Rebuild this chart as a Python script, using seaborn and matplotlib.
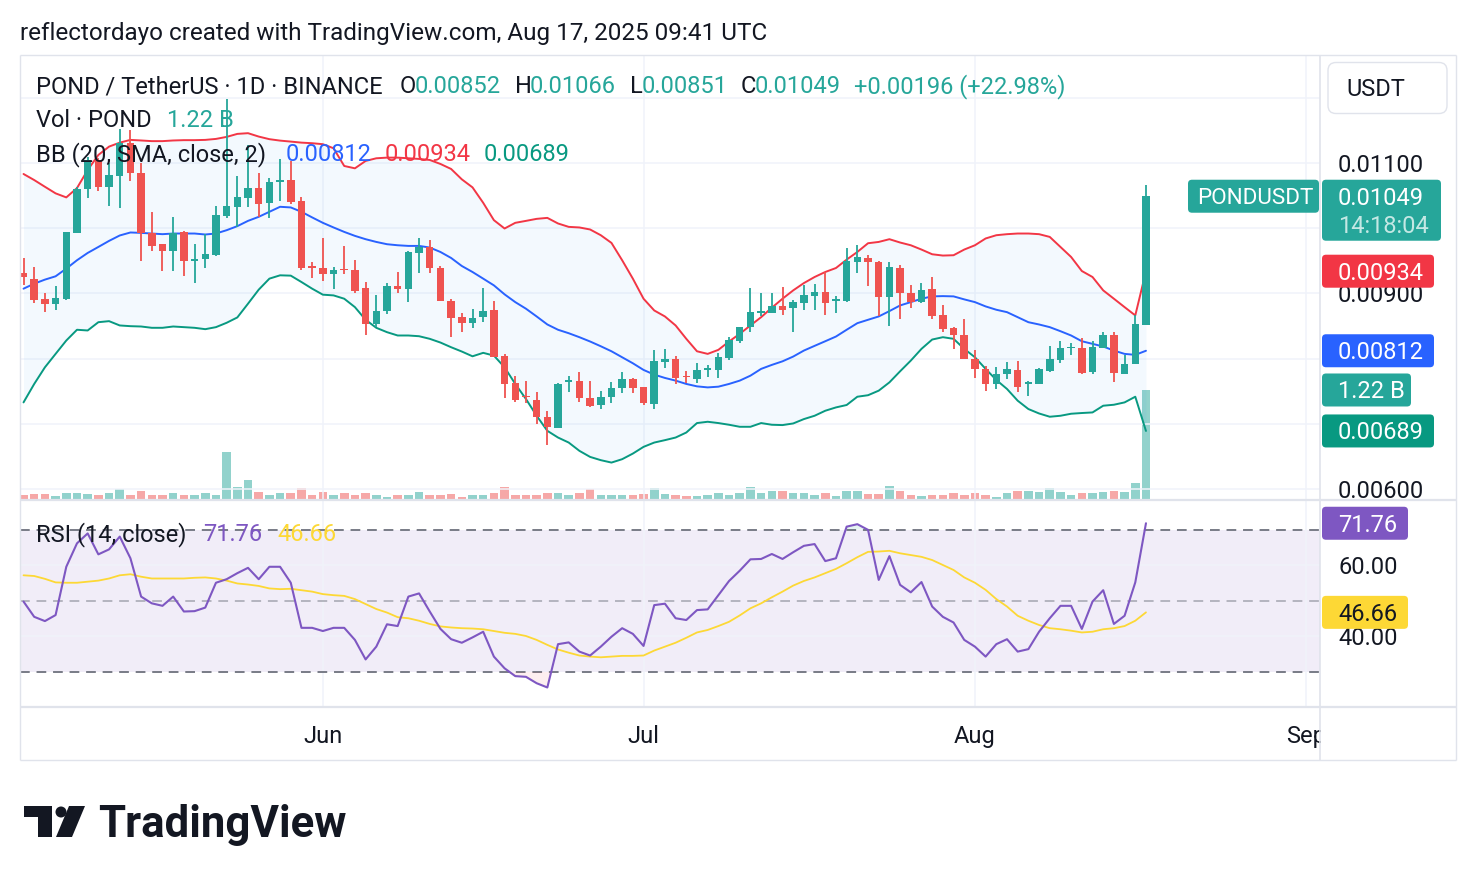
import numpy as np
import pandas as pd
import matplotlib
matplotlib.use("Agg")
import matplotlib.pyplot as plt
import seaborn as sns
from matplotlib.patches import FancyBboxPatch, Rectangle, Circle, Polygon

sns.set_theme(style="white")
plt.rcParams['font.family'] = ['Roboto', 'DejaVu Sans']

# ---------------- data ----------------
dates = pd.date_range("2025-05-04", periods=106, freq="D")

open_ = [0.009308, 0.009215, 0.008908, 0.008831, 0.008908, 0.009923, 0.010600, 0.011046, 0.010631, 0.010800,
         0.011308, 0.010846, 0.009923, 0.009754, 0.009646, 0.009938, 0.009492, 0.009523, 0.009585, 0.010185,
         0.010323, 0.010462, 0.010615, 0.010385, 0.010715, 0.010738, 0.010415, 0.009415, 0.009385, 0.009292,
         0.009377, 0.009354, 0.009077, 0.008523, 0.008723, 0.009108, 0.009062, 0.009623, 0.009708, 0.009385,
         0.008877, 0.008631, 0.008538, 0.008631, 0.008738, 0.008046, 0.007631, 0.007423, 0.007369, 0.007108,
         0.006938, 0.007646, 0.007662, 0.007400, 0.007292, 0.007415, 0.007554, 0.007692, 0.007569, 0.007308,
         0.007954, 0.008000, 0.007731, 0.007692, 0.007831, 0.007831, 0.008015, 0.008262, 0.008477, 0.008708,
         0.008692, 0.008800, 0.008769, 0.008846, 0.008954, 0.009015, 0.008892, 0.008877, 0.009477, 0.009538,
         0.009477, 0.008938, 0.009385, 0.009000, 0.008862, 0.009062, 0.008662, 0.008462, 0.008369, 0.008000,
         0.007846, 0.007615, 0.007769, 0.007831, 0.007615, 0.007615, 0.007815, 0.007985, 0.008162, 0.008169,
         0.007800, 0.008169, 0.008369, 0.007769, 0.007923, 0.008520]
high = [0.009538, 0.009400, 0.009000, 0.009108, 0.009938, 0.010631, 0.011092, 0.011077, 0.011000, 0.011523,
        0.011508, 0.011000, 0.010246, 0.009760, 0.010169, 0.009954, 0.009754, 0.009908, 0.010338, 0.011985,
        0.010800, 0.011277, 0.010846, 0.010769, 0.011062, 0.011031, 0.010477, 0.009477, 0.009846, 0.009400,
        0.009723, 0.009508, 0.009169, 0.008969, 0.009154, 0.009323, 0.009646, 0.009846, 0.009815, 0.009415,
        0.008908, 0.008692, 0.008754, 0.009077, 0.008877, 0.008077, 0.007738, 0.007662, 0.007492, 0.007200,
        0.007631, 0.007738, 0.007800, 0.007662, 0.007508, 0.007646, 0.007800, 0.007708, 0.007570, 0.008138,
        0.008154, 0.008046, 0.007815, 0.007938, 0.007908, 0.008092, 0.008338, 0.008485, 0.009077, 0.009000,
        0.009000, 0.009092, 0.008892, 0.009123, 0.009138, 0.009323, 0.008954, 0.009692, 0.009738, 0.009585,
        0.009492, 0.009477, 0.009431, 0.009123, 0.009154, 0.009246, 0.008815, 0.008477, 0.008600, 0.008138,
        0.007892, 0.007877, 0.007954, 0.007969, 0.007662, 0.007862, 0.008200, 0.008277, 0.008246, 0.008323,
        0.008277, 0.008400, 0.008415, 0.008062, 0.008662, 0.010660]
low = [0.009123, 0.008846, 0.008708, 0.008738, 0.008900, 0.009920, 0.010462, 0.010569, 0.010338, 0.010308,
       0.010723, 0.009492, 0.009646, 0.009338, 0.009338, 0.009262, 0.009154, 0.009385, 0.009569, 0.010154,
       0.010015, 0.010323, 0.010169, 0.010154, 0.010415, 0.010369, 0.009354, 0.009231, 0.009185, 0.009062,
       0.009292, 0.009000, 0.008369, 0.008477, 0.008677, 0.009000, 0.008862, 0.009308, 0.009308, 0.008877,
       0.008338, 0.008400, 0.008462, 0.008554, 0.008031, 0.007400, 0.007338, 0.007323, 0.007000, 0.006677,
       0.006938, 0.007492, 0.007338, 0.007262, 0.007231, 0.007323, 0.007477, 0.007477, 0.007292, 0.007231,
       0.007862, 0.007615, 0.007631, 0.007631, 0.007723, 0.007708, 0.007985, 0.008246, 0.008400, 0.008646,
       0.008692, 0.008662, 0.008400, 0.008738, 0.008738, 0.008662, 0.008692, 0.008862, 0.009308, 0.009108,
       0.008646, 0.008492, 0.008600, 0.008769, 0.008846, 0.008600, 0.008400, 0.008154, 0.008000, 0.007708,
       0.007508, 0.007538, 0.007692, 0.007492, 0.007431, 0.007615, 0.007800, 0.007938, 0.008062, 0.007769,
       0.007769, 0.008169, 0.007646, 0.007769, 0.007923, 0.008510]
close = [0.009246, 0.008892, 0.008831, 0.008923, 0.009938, 0.010600, 0.011046, 0.010631, 0.010815, 0.011308,
         0.010846, 0.009923, 0.009723, 0.009646, 0.009923, 0.009492, 0.009523, 0.009600, 0.010200, 0.010338,
         0.010477, 0.010615, 0.010369, 0.010708, 0.010731, 0.010400, 0.009385, 0.009392, 0.009292, 0.009354,
         0.009354, 0.009031, 0.008523, 0.008723, 0.009108, 0.009062, 0.009631, 0.009708, 0.009385, 0.008877,
         0.008615, 0.008538, 0.008615, 0.008723, 0.008031, 0.007615, 0.007369, 0.007408, 0.007108, 0.006954,
         0.007615, 0.007662, 0.007400, 0.007277, 0.007415, 0.007554, 0.007692, 0.007554, 0.007323, 0.007969,
         0.008000, 0.007708, 0.007715, 0.007831, 0.007846, 0.008031, 0.008292, 0.008477, 0.008708, 0.008723,
         0.008800, 0.008738, 0.008862, 0.008969, 0.009015, 0.008846, 0.008908, 0.009492, 0.009554, 0.009477,
         0.008938, 0.009400, 0.009000, 0.008862, 0.009046, 0.008646, 0.008446, 0.008369, 0.008000, 0.007846,
         0.007615, 0.007769, 0.007846, 0.007569, 0.007631, 0.007846, 0.008000, 0.008169, 0.008177, 0.007785,
         0.008185, 0.008369, 0.007785, 0.007923, 0.008530, 0.010490]
volume_m = [58, 66, 66, 44, 81, 81, 66, 58, 74, 118,
            58, 103, 58, 58, 74, 58, 58, 74, 58, 527,
            147, 225, 85, 58, 74, 74, 129, 58, 92, 58,
            81, 58, 81, 52, 37, 58, 58, 92, 58, 58,
            66, 37, 52, 58, 81, 140, 58, 58, 58, 81,
            81, 58, 74, 118, 58, 58, 58, 58, 66, 129,
            66, 58, 44, 44, 58, 74, 58, 74, 147, 81,
            103, 103, 81, 74, 58, 81, 44, 103, 103, 66,
            66, 158, 103, 58, 44, 58, 58, 74, 58, 81,
            58, 37, 81, 103, 103, 92, 129, 92, 58, 81,
            81, 92, 103, 92, 191, 1220]
bb_upper = [0.010831, 0.010738, 0.010635, 0.010534, 0.010472, 0.010615, 0.010892, 0.011123, 0.011251, 0.011312,
            0.011354, 0.011345, 0.011335, 0.011335, 0.011345, 0.011350, 0.011350, 0.011354, 0.011369, 0.011400,
            0.011446, 0.011457, 0.011405, 0.011365, 0.011343, 0.011328, 0.011312, 0.011303, 0.011288, 0.011226,
            0.010954, 0.010918, 0.011031, 0.011072, 0.011082, 0.011082, 0.011072, 0.011062, 0.011046, 0.010985,
            0.010908, 0.010749, 0.010626, 0.010389, 0.010123, 0.009995, 0.010082, 0.010112, 0.010143, 0.010158,
            0.010072, 0.010020, 0.010011, 0.009980, 0.009892, 0.009774, 0.009508, 0.009226, 0.008918, 0.008738,
            0.008646, 0.008508, 0.008303, 0.008112, 0.008072, 0.008134, 0.008262, 0.008380, 0.008508, 0.008635,
            0.008780, 0.008918, 0.009046, 0.009158, 0.009251, 0.009328, 0.009389, 0.009518, 0.009635, 0.009769,
            0.009789, 0.009831, 0.009780, 0.009738, 0.009672, 0.009600, 0.009580, 0.009585, 0.009672, 0.009738,
            0.009842, 0.009892, 0.009908, 0.009918, 0.009918, 0.009908, 0.009866, 0.009712, 0.009558, 0.009343,
            0.009251, 0.009046, 0.008918, 0.008789, 0.008662, 0.009340]
bb_basis = [0.009072, 0.009149, 0.009211, 0.009262, 0.009380, 0.009508, 0.009620, 0.009712, 0.009805, 0.009888,
            0.009934, 0.009928, 0.009918, 0.009908, 0.009918, 0.009918, 0.009918, 0.009903, 0.009918, 0.009969,
            0.010031, 0.010112, 0.010174, 0.010251, 0.010328, 0.010318, 0.010251, 0.010165, 0.010082, 0.010011,
            0.009943, 0.009882, 0.009831, 0.009789, 0.009754, 0.009738, 0.009728, 0.009728, 0.009703, 0.009635,
            0.009543, 0.009420, 0.009328, 0.009226, 0.009123, 0.008985, 0.008866, 0.008765, 0.008646, 0.008523,
            0.008442, 0.008389, 0.008328, 0.008262, 0.008189, 0.008112, 0.008020, 0.007928, 0.007826, 0.007754,
            0.007703, 0.007662, 0.007611, 0.007574, 0.007558, 0.007569, 0.007611, 0.007662, 0.007738, 0.007842,
            0.007903, 0.007958, 0.008031, 0.008123, 0.008195, 0.008266, 0.008338, 0.008442, 0.008543, 0.008595,
            0.008646, 0.008728, 0.008815, 0.008866, 0.008918, 0.008954, 0.008958, 0.008954, 0.008908, 0.008866,
            0.008800, 0.008749, 0.008712, 0.008635, 0.008558, 0.008523, 0.008482, 0.008420, 0.008354, 0.008266,
            0.008226, 0.008185, 0.008123, 0.008072, 0.008057, 0.008120]
bb_lower = [0.007328, 0.007611, 0.007866, 0.008072, 0.008277, 0.008442, 0.008431, 0.008558, 0.008574, 0.008508,
            0.008497, 0.008492, 0.008472, 0.008472, 0.008492, 0.008482, 0.008472, 0.008451, 0.008482, 0.008549,
            0.008631, 0.008842, 0.009057, 0.009226, 0.009277, 0.009272, 0.009174, 0.009072, 0.008980, 0.008969,
            0.008918, 0.008789, 0.008595, 0.008472, 0.008405, 0.008354, 0.008354, 0.008343, 0.008303, 0.008246,
            0.008174, 0.008108, 0.008035, 0.008088, 0.008046, 0.007866, 0.007611, 0.007380, 0.007123, 0.006892,
            0.006789, 0.006712, 0.006585, 0.006492, 0.006442, 0.006405, 0.006457, 0.006543, 0.006646, 0.006712,
            0.006749, 0.006789, 0.006866, 0.007011, 0.007031, 0.007011, 0.006985, 0.006954, 0.006954, 0.007011,
            0.006985, 0.006980, 0.007005, 0.007072, 0.007123, 0.007200, 0.007251, 0.007288, 0.007415, 0.007438,
            0.007508, 0.007635, 0.007805, 0.007969, 0.008149, 0.008292, 0.008328, 0.008303, 0.008149, 0.008020,
            0.007842, 0.007672, 0.007534, 0.007354, 0.007226, 0.007158, 0.007108, 0.007123, 0.007154, 0.007165,
            0.007174, 0.007277, 0.007292, 0.007328, 0.007415, 0.006890]
rsi = [49.7, 45.4, 44.2, 45.9, 59.5, 66.1, 68.9, 63.0, 64.4, 68.0,
       61.9, 51.1, 49.2, 48.5, 51.1, 46.9, 47.0, 48.0, 55.0, 56.0,
       57.7, 59.2, 56.0, 59.5, 59.5, 55.0, 42.3, 42.3, 41.4, 42.3,
       42.3, 38.9, 33.4, 37.0, 43.3, 42.8, 51.1, 52.0, 46.9, 42.0,
       39.1, 38.1, 39.6, 41.2, 34.2, 30.9, 28.7, 28.5, 26.7, 25.5,
       37.7, 38.2, 35.6, 34.5, 37.0, 39.8, 42.2, 40.6, 37.2, 48.7,
       49.1, 45.0, 44.5, 47.3, 47.5, 51.5, 55.5, 58.4, 61.6, 61.7,
       63.1, 61.7, 63.6, 65.4, 65.9, 61.1, 61.9, 70.8, 71.5, 69.9,
       55.8, 62.5, 54.4, 52.3, 55.2, 48.3, 45.4, 43.8, 38.9, 37.0,
       34.2, 37.7, 39.1, 35.6, 36.3, 41.2, 45.0, 48.5, 48.5, 42.0,
       49.7, 52.9, 43.4, 45.7, 55.1, 71.76]
rsi_ma = [57.1, 56.9, 56.1, 55.1, 55.0, 55.0, 55.3, 55.6, 56.2, 57.1,
          57.4, 56.7, 56.2, 56.2, 56.2, 56.2, 56.4, 56.5, 56.2, 55.6,
          54.8, 54.5, 54.1, 53.4, 53.2, 53.3, 52.9, 52.5, 51.8, 51.5,
          51.3, 50.4, 49.0, 47.6, 46.6, 45.3, 45.0, 44.3, 43.4, 42.7,
          42.4, 42.2, 42.1, 41.9, 41.4, 40.9, 40.6, 40.0, 38.9, 37.5,
          36.2, 35.3, 34.5, 34.2, 34.0, 34.2, 34.4, 34.4, 34.5, 35.9,
          37.0, 38.1, 39.5, 41.0, 41.7, 42.8, 44.0, 45.8, 47.8, 49.2,
          50.9, 52.5, 54.2, 55.5, 56.5, 57.7, 58.9, 60.5, 62.2, 63.7,
          63.8, 64.0, 63.3, 62.8, 62.3, 61.4, 60.0, 58.6, 56.5, 55.0,
          53.0, 50.4, 48.3, 45.7, 44.3, 43.1, 42.2, 41.9, 41.5, 41.0,
          41.2, 41.9, 42.2, 42.8, 44.3, 46.66]

month_starts = ["2025-06-01", "2025-07-01", "2025-08-01", "2025-09-01"]
month_labels = ["Jun", "Jul", "Aug", "Sep"]
price_ticks = [0.006, 0.007, 0.008, 0.009, 0.010, 0.011, 0.012]
# labels that the price scale shows (the others are hidden behind the value tags)
price_tick_labels = ["0.00600", "", "", "0.00900", "", "0.01100", ""]
rsi_ticks = [40, 60]
rsi_tick_labels = ["40.00", "60.00"]
rsi_levels = [70, 50, 30]

for arr in (open_, high, low, close, volume_m, bb_upper, bb_basis, bb_lower, rsi, rsi_ma):
    assert len(arr) == len(dates), len(arr)

df = pd.DataFrame({"date": dates, "open": open_, "high": high, "low": low, "close": close,
                   "vol": volume_m, "up": bb_upper, "mid": bb_basis, "lo": bb_lower,
                   "rsi": rsi, "rsi_ma": rsi_ma})
df["x"] = (df["date"] - df["date"].iloc[0]).dt.days
month_x = [(pd.Timestamp(m) - dates[0]).days for m in month_starts]

# ---------------- style ----------------
UP, DOWN, TXT = "#26a69a", "#ef5350", "#131722"
GRID, FRAME = "#f0f3fa", "#e0e3eb"
FS = 17

W, H = 1476, 882
fig = plt.figure(figsize=(W / 100, H / 100), dpi=100)
fig.patch.set_facecolor("white")


def frac(x0, y0, x1, y1):
    return [x0 / W, 1 - y1 / H, (x1 - x0) / W, (y1 - y0) / H]


XL = (-0.33, 121.28)
is_up = df["close"] >= df["open"]
colors = np.where(is_up, UP, DOWN)

# volume overlay (bottom layer)
vol_ax = fig.add_axes(frac(20, 55, 1320, 500), zorder=1)
vol_ax.bar(df["x"], df["vol"], width=0.8, color=colors, alpha=0.5, linewidth=0)
vol_ax.set_xlim(XL)
vol_ax.set_ylim(0, 4935)
vol_ax.set_axis_off()

# main price pane
ax = fig.add_axes(frac(20, 55, 1320, 500), zorder=2)
ax.set_facecolor("none")
ax.fill_between(df["x"], df["lo"], df["up"], color="#2196f3", alpha=0.05, linewidth=0, zorder=1)
sns.lineplot(x=df["x"], y=df["up"], ax=ax, color="#f23645", linewidth=1.4, zorder=2)
sns.lineplot(x=df["x"], y=df["mid"], ax=ax, color="#2962ff", linewidth=1.4, zorder=2)
sns.lineplot(x=df["x"], y=df["lo"], ax=ax, color="#089981", linewidth=1.4, zorder=2)
ax.vlines(df["x"], df["low"], df["high"], colors=colors, linewidth=1.3, zorder=3)
body = (df["close"] - df["open"]).abs()
bh = np.maximum(body, 0.000022)
bottom = np.minimum(df["open"], df["close"]) - (bh - body) / 2
ax.bar(df["x"], bh, bottom=bottom, width=0.7, color=colors, linewidth=0, zorder=4)
ax.set_xlim(XL)
ax.set_ylim(0.005831, 0.012656)
ax.set_xticks(month_x)
ax.set_yticks(price_ticks)
ax.set_yticklabels(price_tick_labels)
ax.yaxis.tick_right()
ax.tick_params(axis="y", length=0, pad=13, labelsize=FS, labelcolor=TXT)
ax.tick_params(axis="x", length=0, labelbottom=False)
ax.grid(True, color=GRID, linewidth=1.1)
ax.set_axisbelow(True)
ax.set_xlabel("")
ax.set_ylabel("")
for s in ax.spines.values():
    s.set_visible(False)

# RSI pane
rax = fig.add_axes(frac(20, 500, 1320, 707), zorder=2)
rax.set_facecolor("none")
rax.axhspan(30, 70, color="#7e57c2", alpha=0.1, linewidth=0, zorder=0)
for lv in rsi_levels:
    rax.axhline(lv, color="#787b86", linewidth=1.4, ls=(0, (5, 3.5)),
                alpha=(0.5 if lv == 50 else 1.0), zorder=1)
r = df["rsi"].to_numpy()
rax.fill_between(df["x"], r, 30, where=r < 30, interpolate=True, color="#f23645", alpha=0.08, linewidth=0)
rax.fill_between(df["x"], r, 70, where=r > 70, interpolate=True, color="#089981", alpha=0.1, linewidth=0)
sns.lineplot(x=df["x"], y=df["rsi_ma"], ax=rax, color="#fdd835", linewidth=1.3, zorder=3)
sns.lineplot(x=df["x"], y=df["rsi"], ax=rax, color="#7e57c2", linewidth=1.5, zorder=4)
rax.set_xlim(XL)
rax.set_ylim(20.0, 78.31)
rax.set_yticks(rsi_ticks)
rax.set_yticklabels(rsi_tick_labels)
rax.yaxis.tick_right()
rax.set_xticks(month_x)
rax.set_xticklabels(month_labels)
rax.tick_params(axis="y", length=0, pad=13, labelsize=FS, labelcolor=TXT)
rax.tick_params(axis="x", length=0, pad=13, labelsize=FS, labelcolor=TXT)
rax.grid(True, color=GRID, linewidth=1.1)
rax.set_axisbelow(True)
rax.set_xlabel("")
rax.set_ylabel("")
for s in rax.spines.values():
    s.set_visible(False)

# ---------------- overlay in pixel coordinates ----------------
bg = fig.add_axes([0, 0, 1, 1], zorder=10)
bg.set_xlim(0, W)
bg.set_ylim(H, 0)
bg.set_axis_off()


def ypx(a, v):
    return H - a.transData.transform((0, v))[1]


def label(x, yc, s, color=TXT, size=FS, weight="normal", ha="left", z=5):
    bg.text(x, yc + 0.355 * size * 100 / 72, s, color=color, fontsize=size,
            fontweight=weight, ha=ha, va="baseline", zorder=z)


# cover the time-axis overflow under price scale
bg.add_patch(Rectangle((1321, 708), 134, 51, facecolor="white", edgecolor="none", zorder=1))
# frame
for (xs, ys, lw) in [([20, 1456], [55, 55], 1.0), ([20, 1456], [760, 760], 1.0),
                     ([20, 20], [55, 760], 1.0), ([1456, 1456], [55, 760], 1.0),
                     ([20, 1456], [500, 500], 1.6), ([20, 1456], [707, 707], 1.6),
                     ([1320, 1320], [55, 760], 1.2)]:
    bg.plot(xs, ys, color=FRAME, linewidth=lw, zorder=2, solid_capstyle="butt")

# header
label(20, 31, "reflectordayo created with TradingView.com, Aug 17, 2025 09:41 UTC", size=17.5)

# legends
last = df.iloc[-1]
prev_close = df["close"].iloc[-2]
chg = last["close"] - prev_close
label(36, 85, "POND / TetherUS · 1D · BINANCE")
for lx, k, vx, v in [(400, "O", 415, last["open"]), (515, "H", 530, last["high"]),
                     (630, "L", 642, last["low"]), (741, "C", 755, last["close"])]:
    label(lx, 85, k)
    label(vx, 85, f"{v:.5f}", color=UP)
label(854, 85, f"+{chg:.5f} (+{chg / prev_close * 100:.2f}%)", color=UP)
label(36, 119, "Vol · POND")
label(167, 119, f"{last['vol'] / 1000:.2f} B", color=UP)
label(36, 153, "BB (20, SMA, close, 2)")
label(286, 153, f"{last['mid']:.5f}", color="#2962ff")
label(385, 153, f"{last['up']:.5f}", color="#f23645")
label(484, 153, f"{last['lo']:.5f}", color="#089981")
label(36, 533, "RSI (14, close)")
label(203, 533, f"{last['rsi']:.2f}", color="#7e57c2")
label(277, 533, f"{last['rsi_ma']:.2f}", color="#fdd835")

# USDT box
bg.add_patch(FancyBboxPatch((1328, 62.5), 119, 51, boxstyle="round,pad=0,rounding_size=8",
                            facecolor="white", edgecolor=FRAME, linewidth=1.0, zorder=3))
label(1346, 88, "USDT")


def tag(x0, x1, yc, h, fc, text, tc="white", tx=1338, top=None, size=FS):
    y0 = yc - h / 2 if top is None else top
    bg.add_patch(FancyBboxPatch((x0, y0), x1 - x0, h, boxstyle="round,pad=0,rounding_size=4",
                                facecolor=fc, edgecolor="none", zorder=6))
    if text:
        label(tx, yc, text, color=tc, z=7, size=size)


yc_close = ypx(ax, last["close"])
tag(1188, 1319, yc_close, 33, UP, "PONDUSDT", tx=1197, size=16.2)
tag(1322, 1441, yc_close, 61, UP, f"{last['close']:.5f}", top=yc_close - 16.5)
label(1338, yc_close + 28, "14:18:04", color="#c4e8e4", z=7)
tag(1322, 1434, ypx(ax, last["up"]), 33, "#f23645", f"{last['up']:.5f}")
tag(1322, 1434, ypx(ax, last["mid"]), 33, "#2962ff", f"{last['mid']:.5f}")
tag(1322, 1411, ypx(vol_ax, last["vol"]), 33, UP, f"{last['vol'] / 1000:.2f} B")
tag(1322, 1434, ypx(ax, last["lo"]), 33, "#089981", f"{last['lo']:.5f}")
tag(1322, 1408, ypx(rax, last["rsi"]), 33, "#7e57c2", f"{last['rsi']:.2f}")
tag(1322, 1408, ypx(rax, last["rsi_ma"]), 33, "#fdd835", f"{last['rsi_ma']:.2f}", tc=TXT)

# TradingView logo
bg.add_patch(Rectangle((24, 806), 28, 11, facecolor=TXT, edgecolor="none", zorder=5))
bg.add_patch(Rectangle((38, 806), 14, 31, facecolor=TXT, edgecolor="none", zorder=5))
bg.add_patch(Circle((61, 812), 5.5, facecolor=TXT, edgecolor="none", zorder=5))
bg.add_patch(Polygon([(69, 806), (85, 806), (72, 837), (56, 837)], closed=True,
                     facecolor=TXT, edgecolor="none", zorder=5))
label(98, 821, "TradingView", size=31.5, weight="bold")

fig.savefig("out.png", dpi=100, facecolor="white")
